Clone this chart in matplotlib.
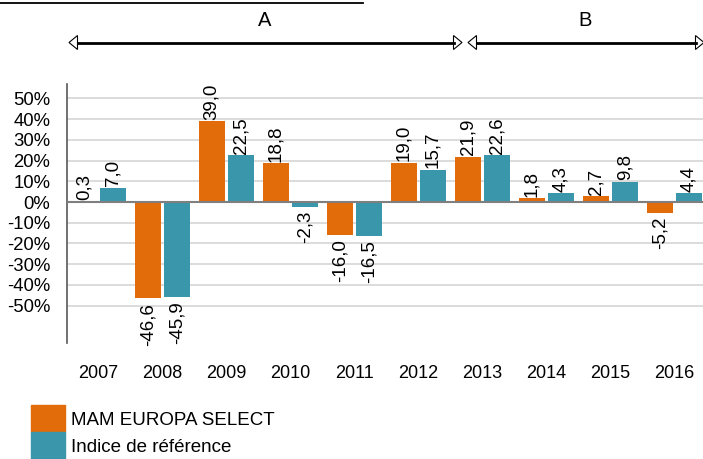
import matplotlib
matplotlib.use("Agg")
import matplotlib.pyplot as plt
from matplotlib.patches import Polygon, Rectangle
import numpy as np

years = ["2007", "2008", "2009", "2010", "2011", "2012", "2013", "2014", "2015", "2016"]
mam = [0.3, -46.6, 39.0, 18.8, -16.0, 19.0, 21.9, 1.8, 2.7, -5.2]
index = [7.0, -45.9, 22.5, -2.3, -16.5, 15.7, 22.6, 4.3, 9.8, 4.4]
series_names = ["MAM EUROPA SELECT", "Indice de référence"]
yticks = [-50, -40, -30, -20, -10, 0, 10, 20, 30, 40, 50]
periods = ["A", "B"]

orange = "#E36C0A"
teal = "#3A96AB"

plt.rcParams['font.family'] = ['Liberation Sans', 'DejaVu Sans']

W, H = 703, 459
fig = plt.figure(figsize=(W / 100, H / 100), dpi=100)
ax = fig.add_axes([67 / W, 1 - 343 / H, 636 / W, 259 / H])

x = np.arange(len(years))
bw = 0.406
off = 0.227
ax.bar(x - off, mam, bw, color=orange, zorder=3)
ax.bar(x + off, index, bw, color=teal, zorder=3)

ax.set_xlim(-0.49, 9.45)
ax.set_ylim(-68.1, 57)
ax.set_yticks(yticks)
ax.set_yticklabels([f"{v}%" for v in yticks], fontsize=13.3)
ax.set_xticks(x)
ax.set_xticklabels(years, fontsize=13)
ax.tick_params(axis='both', length=0)
ax.tick_params(axis='x', pad=16)
ax.tick_params(axis='y', pad=12)
for v in yticks:
    ax.axhline(v, color="#D9D9D9" if v != 0 else "#7F7F7F", lw=1.3 if v != 0 else 1.5,
               zorder=1 if v != 0 else 4)
for s in ["top", "right", "bottom"]:
    ax.spines[s].set_visible(False)
ax.spines["left"].set_color("#595959")
ax.spines["left"].set_linewidth(1.2)

def fmt(v):
    return f"{v:.1f}".replace(".", ",")

for xs, vals in ((x - off, mam), (x + off, index)):
    for xi, v in zip(xs, vals):
        if v >= 0:
            ax.annotate(fmt(v), (xi, v), xytext=(0, 1), textcoords="offset points",
                        rotation=90, ha="center", va="bottom", fontsize=13.5, zorder=5)
        else:
            ax.annotate(fmt(v), (xi, v), xytext=(0, -3), textcoords="offset points",
                        rotation=90, ha="center", va="top", fontsize=13.5, zorder=5)

# top decorations (pixel helpers)
def fx(px):
    return px / W

def fy(py):
    return 1 - py / H

fig.add_artist(plt.Line2D([fx(0), fx(363)], [fy(3), fy(3)], color="black", lw=1.3))

ay = 42.5
hl, hh = 8.5, 7
for (x0, x1), lab, lx in zip(((69, 462), (468, 704)), periods, (265, 585)):
    fig.add_artist(plt.Line2D([fx(x0 + hl), fx(x1 - hl)], [fy(ay), fy(ay)],
                              color="black", lw=2))
    left = [(fx(x0), fy(ay)), (fx(x0 + hl), fy(ay - hh)), (fx(x0 + hl), fy(ay + hh))]
    right = [(fx(x1), fy(ay)), (fx(x1 - hl), fy(ay - hh)), (fx(x1 - hl), fy(ay + hh))]
    for tri in (left, right):
        fig.add_artist(Polygon(tri, closed=True, transform=fig.transFigure,
                               facecolor="white", edgecolor="black", lw=0.8))
    fig.text(fx(lx), fy(20.5), lab, ha="center", va="center", fontsize=14.5)

# legend
for i, (name, col) in enumerate(zip(series_names, (orange, teal))):
    y0 = 405 + i * 27
    fig.add_artist(Rectangle((fx(31), fy(y0 + 27)), 34 / W, 27 / H,
                             transform=fig.transFigure, color=col))
    fig.text(fx(71), fy(y0 + 15.5), name, ha="left", va="center", fontsize=13.5)

fig.savefig("out.png", dpi=100)
